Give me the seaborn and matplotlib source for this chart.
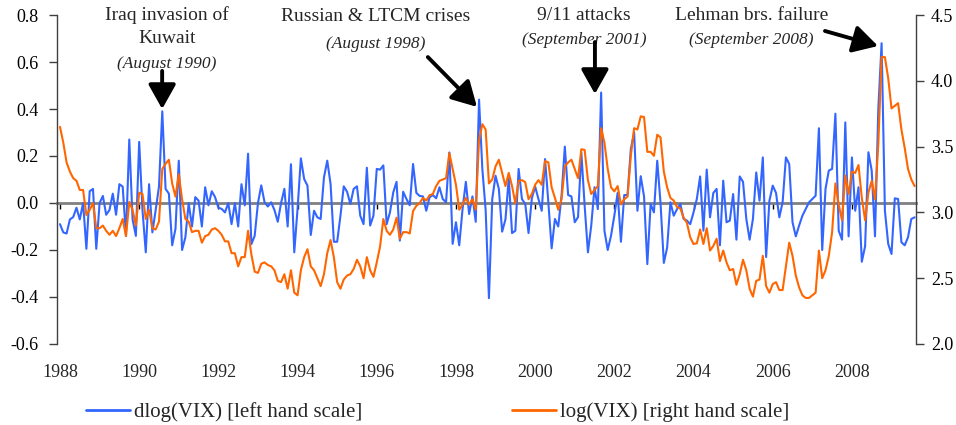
import numpy as np
import pandas as pd
import matplotlib
matplotlib.use("Agg")
import matplotlib.pyplot as plt
from matplotlib.lines import Line2D
from matplotlib.ticker import FormatStrFormatter
import seaborn as sns

# monthly data, Jan 1988 .. Aug 2009
start_year = 1988
dlog_vix = [
    -0.09, -0.125, -0.13, -0.07, -0.06, -0.02, -0.07, 0.00, -0.195, 0.05,
    0.06, -0.195, 0.00, 0.03, -0.05, -0.03, 0.04, -0.05, 0.08, 0.07,
    -0.14, 0.27, -0.07, -0.14, 0.26, -0.03, -0.21, 0.08, -0.125, -0.03,
    0.07, 0.39, 0.06, 0.04, -0.18, -0.11, 0.18, -0.20, -0.146, 0.00,
    -0.10, 0.025, 0.01, -0.10, 0.067, -0.01, 0.05, 0.025, -0.02, -0.025,
    -0.04, 0.00, -0.09, 0.00, -0.10, 0.08, -0.01, 0.21, -0.175, -0.14,
    0.00, 0.075, 0.003, -0.015, 0.003, -0.03, -0.08, 0.00, 0.06, -0.10,
    0.165, -0.21, -0.025, 0.19, 0.102, 0.074, -0.136, -0.033, -0.061, -0.068,
    0.109, 0.18, 0.081, -0.165, -0.165, -0.054, 0.071, 0.048, -0.004, 0.06,
    0.071, -0.054, -0.09, 0.15, -0.096, -0.054, 0.145, 0.142, 0.16, -0.09,
    -0.04, 0.045, 0.09, -0.16, 0.048, 0.017, -0.01, 0.166, 0.043, 0.03,
    0.028, -0.033, 0.024, 0.034, 0.02, 0.067, 0.017, 0.003, 0.215, -0.174,
    -0.082, -0.18, -0.026, 0.09, -0.047, 0.028, -0.08, 0.44, 0.145, -0.03,
    -0.405, 0.017, 0.116, 0.06, -0.122, -0.07, 0.105, -0.128, -0.118, 0.145,
    0.017, -0.004, -0.128, 0.02, 0.07, 0.017, -0.033, 0.187, 0.003, -0.193,
    -0.068, -0.10, 0.03, 0.24, 0.034, 0.028, -0.082, -0.06, 0.215, -0.011,
    -0.21, -0.096, 0.067, -0.026, 0.47, -0.118, -0.20, -0.139, -0.054, 0.043,
    -0.165, 0.034, 0.034, 0.23, 0.30, -0.033, 0.114, 0.028, -0.26, -0.004,
    -0.04, 0.18, 0.00, -0.255, -0.19, 0.003, -0.054, -0.026, -0.004, -0.068,
    -0.075, -0.09, -0.04, 0.017, 0.113, -0.118, 0.142, -0.061, 0.043, 0.06,
    -0.18, 0.095, -0.082, -0.075, 0.038, -0.156, 0.113, 0.09, -0.068, -0.156,
    -0.068, 0.13, 0.01, 0.194, -0.23, 0.01, 0.074, 0.043, -0.061, 0.003,
    0.194, 0.166, -0.082, -0.142, -0.096, -0.054, -0.026, 0.003, 0.017, 0.031,
    0.318, -0.20, 0.06, 0.138, 0.145, 0.38, -0.118, -0.156, 0.343, -0.142,
    0.194, -0.033, 0.067, -0.25, -0.184, 0.216, 0.138, -0.142, 0.40, 0.68,
    -0.033, -0.174, -0.217, 0.02, 0.017, -0.167, -0.18, -0.146, -0.068, -0.061,
]
log_vix = [
    3.65, 3.53, 3.38, 3.31, 3.26, 3.24, 3.17, 3.17, 2.98, 3.02,
    3.07, 2.88, 2.88, 2.90, 2.86, 2.83, 2.86, 2.82, 2.88, 2.95,
    2.82, 3.08, 3.02, 2.90, 3.15, 3.14, 2.95, 3.02, 2.88, 2.87,
    2.93, 3.33, 3.37, 3.40, 3.22, 3.12, 3.29, 3.10, 2.95, 2.93,
    2.85, 2.86, 2.86, 2.77, 2.82, 2.83, 2.87, 2.88, 2.86, 2.83,
    2.78, 2.78, 2.69, 2.69, 2.59, 2.66, 2.66, 2.86, 2.68, 2.55,
    2.54, 2.61, 2.62, 2.60, 2.59, 2.56, 2.48, 2.47, 2.53, 2.42,
    2.56, 2.39, 2.37, 2.56, 2.66, 2.72, 2.59, 2.56, 2.50, 2.44,
    2.53, 2.69, 2.79, 2.66, 2.47, 2.42, 2.49, 2.52, 2.53, 2.57,
    2.64, 2.59, 2.50, 2.66, 2.56, 2.51, 2.62, 2.74, 2.95, 2.86,
    2.83, 2.87, 2.96, 2.80, 2.85, 2.85, 2.84, 3.01, 3.05, 3.07,
    3.11, 3.09, 3.13, 3.14, 3.20, 3.24, 3.25, 3.26, 3.45, 3.33,
    3.21, 3.02, 3.06, 3.11, 3.06, 3.10, 3.02, 3.55, 3.67, 3.63,
    3.22, 3.25, 3.35, 3.40, 3.30, 3.20, 3.30, 3.20, 3.07, 3.24,
    3.245, 3.23, 3.10, 3.14, 3.21, 3.245, 3.21, 3.39, 3.38, 3.19,
    3.11, 3.02, 3.10, 3.35, 3.38, 3.40, 3.33, 3.26, 3.48, 3.475,
    3.245, 3.14, 3.17, 3.20, 3.64, 3.53, 3.33, 3.19, 3.16, 3.20,
    3.06, 3.10, 3.12, 3.43, 3.64, 3.63, 3.73, 3.725, 3.46, 3.46,
    3.43, 3.59, 3.57, 3.31, 3.19, 3.11, 3.09, 3.04, 3.03, 2.96,
    2.92, 2.81, 2.76, 2.765, 2.87, 2.76, 2.88, 2.71, 2.745, 2.80,
    2.63, 2.71, 2.62, 2.56, 2.57, 2.45, 2.53, 2.64, 2.56, 2.42,
    2.36, 2.48, 2.49, 2.67, 2.44, 2.39, 2.455, 2.47, 2.41, 2.41,
    2.59, 2.77, 2.67, 2.52, 2.43, 2.37, 2.35, 2.35, 2.37, 2.39,
    2.71, 2.50, 2.56, 2.67, 2.85, 3.22, 3.06, 2.94, 3.28, 3.14,
    3.31, 3.30, 3.36, 3.11, 2.94, 3.15, 3.24, 3.10, 3.52, 4.18,
    4.18, 4.02, 3.79, 3.81, 3.83, 3.63, 3.49, 3.33, 3.25, 3.20,
]
year_ticks = [1988, 1990, 1992, 1994, 1996, 1998, 2000, 2002, 2004, 2006, 2008]
left_ticks = [-0.6, -0.4, -0.2, 0.0, 0.2, 0.4, 0.6, 0.8]
right_ticks = [2.0, 2.5, 3.0, 3.5, 4.0, 4.5]
labels = ["dlog(VIX) [left hand scale]", "log(VIX) [right hand scale]"]

BLUE = "#3366FF"
ORANGE = "#FF6600"

df = pd.DataFrame({"dlog": dlog_vix, "log": log_vix})
df["t"] = start_year + np.arange(len(df)) / 12.0

sns.set_theme(style="white")
plt.rcParams["font.family"] = ["Liberation Serif", "DejaVu Serif"]
plt.rcParams["axes.unicode_minus"] = False

fig = plt.figure(figsize=(9.56, 4.25), dpi=100)
ax = fig.add_axes([0.0596, 0.1906, 0.8982, 0.7741])
ax2 = ax.twinx()

sns.lineplot(data=df, x="t", y="dlog", ax=ax, color=BLUE, lw=1.5, legend=False)
sns.lineplot(data=df, x="t", y="log", ax=ax2, color=ORANGE, lw=1.5, legend=False)

ax.set_xlim(1987.924, 2009.61)
ax.set_ylim(-0.6, 0.8)
ax2.set_ylim(2.0, 4.5)
for a in (ax, ax2):
    a.set_xlabel("")
    a.set_ylabel("")
    a.grid(False)
    a.spines["top"].set_visible(False)

# zero line acts as the category axis
ax.spines["right"].set_visible(False)
ax.spines["bottom"].set_position(("data", 0))
ax.spines["bottom"].set_color("#808080")
ax.spines["bottom"].set_linewidth(2)
ax.spines["bottom"].set_zorder(1.5)
ax.spines["left"].set_color("#404040")
ax.spines["left"].set_linewidth(1)
ax2.spines["left"].set_visible(False)
ax2.spines["bottom"].set_visible(False)
ax2.spines["right"].set_color("#404040")
ax2.spines["right"].set_linewidth(1)

ax.set_xticks(year_ticks)
ax.tick_params(axis="x", bottom=True, direction="out", length=4, width=1,
               color="black", labelbottom=False)
ax.set_yticks(left_ticks)
ax.yaxis.set_major_formatter(FormatStrFormatter("%.1f"))
ax.tick_params(axis="y", left=True, direction="out", length=6, width=1,
               color="#404040", labelsize=13, pad=7, labelcolor="black")
ax2.set_yticks(right_ticks)
ax2.yaxis.set_major_formatter(FormatStrFormatter("%.1f"))
ax2.tick_params(axis="y", right=True, direction="out", length=6, width=1,
                color="#404040", labelsize=13, pad=5, labelcolor="black")

# year labels sit below the plot area
sec = ax.secondary_xaxis("bottom")
sec.set_xticks(year_ticks)
sec.set_xticklabels([str(y) for y in year_ticks])
sec.tick_params(length=0, pad=14.5, labelsize=13)
sec.spines["bottom"].set_visible(False)

# event annotations
events = [
    (["Iraq invasion of", "Kuwait"], "(August 1990)", 1990.70, [0.800, 0.698], 0.591,
     (1990.58, 0.562), (1990.58, 0.40)),
    (["Russian & LTCM crises"], "(August 1998)", 1995.98, [0.792], 0.677,
     (1997.29, 0.621), (1998.53, 0.409)),
    (["9/11 attacks"], "(September 2001)", 2001.23, [0.800], 0.694,
     (2001.51, 0.685), (2001.51, 0.464)),
    (["Lehman brs. failure"], "(September 2008)", 2005.47, [0.800], 0.694,
     (2007.32, 0.732), (2008.66, 0.668)),
]
for lines, date, tx, ys, ydate, tail, tip in events:
    for line, yy in zip(lines, ys):
        ax.text(tx, yy, line, ha="center", va="center", fontsize=14, clip_on=False)
    ax.text(tx, ydate, date, ha="center", va="center", fontsize=12.5,
            style="italic", clip_on=False)
    ax.annotate("", xy=tip, xytext=tail, annotation_clip=False,
                arrowprops=dict(arrowstyle="-|>,head_length=0.75,head_width=0.42",
                                lw=2.8, color="black", mutation_scale=20,
                                shrinkA=0, shrinkB=0))

handles = [Line2D([], [], color=BLUE, lw=2), Line2D([], [], color=ORANGE, lw=2)]
fig.legend(handles, labels, loc="center left", bbox_to_anchor=(86 / 956, 13 / 425),
           ncol=2, frameon=False, fontsize=15, handlelength=2.1, handletextpad=0.2,
           columnspacing=7.2, borderpad=0, borderaxespad=0)

fig.savefig("out.png", dpi=100)
plt.close(fig)
